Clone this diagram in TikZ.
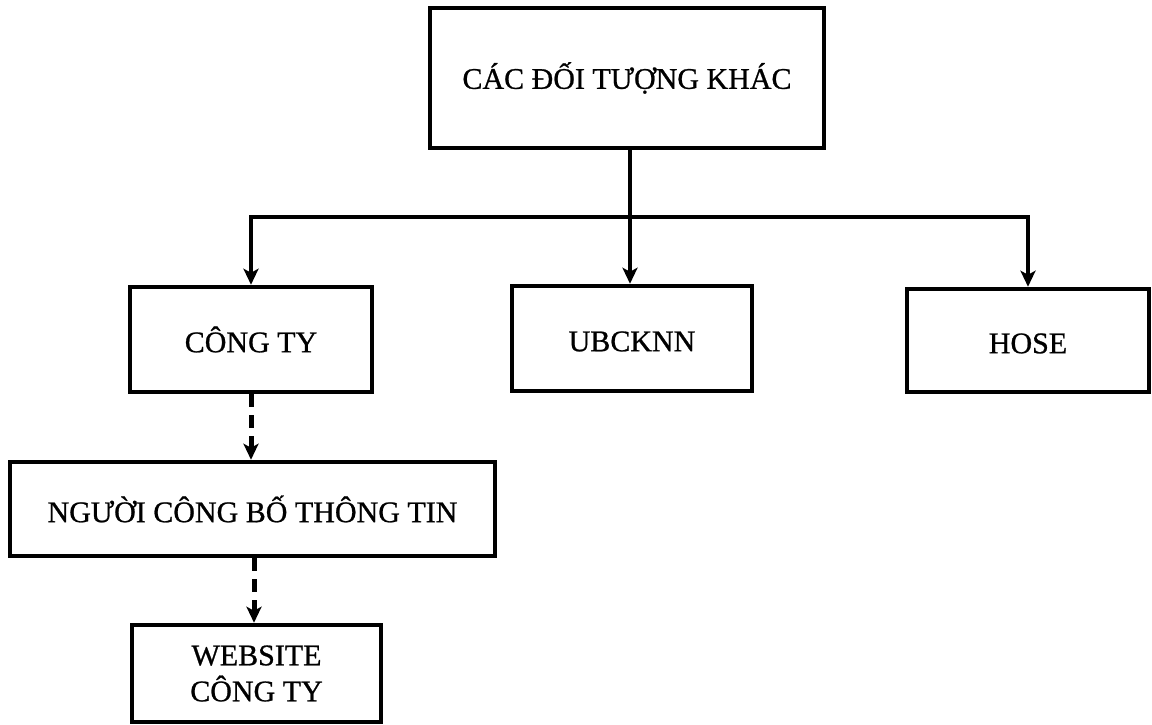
\documentclass[tikz,border=0pt]{standalone}
\usepackage{fontspec}
\setmainfont[FakeBold=0.8]{Liberation Serif}
\usetikzlibrary{arrows.meta}
\begin{document}
\begin{tikzpicture}[x=1pt,y=-1pt,
  boxnode/.style={draw, line width=4.5pt, rectangle, inner sep=0pt, align=center,
    font=\fontsize{30}{36}\selectfont},
  conn/.style={line width=4pt},
  arr/.style={conn, -{Stealth[length=16pt,width=15pt,inset=4pt]}},
  darr/.style={arr, line width=5pt, dash pattern=on 13pt off 8pt}]
\useasboundingbox (0,0) rectangle (1152,724);
\node[boxnode, minimum width=394pt, minimum height=140pt] (top) at (627,78) {CÁC ĐỐI TƯỢNG KHÁC};
\node[boxnode, minimum width=242pt, minimum height=105pt] (cty) at (251,339.5) {CÔNG TY};
\node[boxnode, minimum width=240pt, minimum height=105pt] (ubc) at (632,338.5) {\vphantom{Ô}UBCKNN};
\node[boxnode, minimum width=242pt, minimum height=103pt] (hose) at (1028,340.5) {\vphantom{Ô}HOSE};
\node[boxnode, minimum width=485pt, minimum height=94pt] (ngb) at (252.5,509) {NGƯỜI CÔNG BỐ THÔNG TIN};
\node[boxnode, minimum width=249pt, minimum height=97pt] (web) at (256.5,673.5) {WEBSITE\\CÔNG TY};
\coordinate (j) at (630,217);
\draw[conn] (j |- top.south) -- (j);
\draw[conn, line cap=rect] (j -| cty.north) -- (j -| hose.north);
\draw[arr] (j -| cty.north) -- (cty.north);
\draw[arr] (j) -- (j |- ubc.north);
\draw[arr] (j -| hose.north) -- (hose.north);
\draw[darr] (cty.south) -- (cty.south |- ngb.north);
\draw[darr] (ngb.south) ++(1.5,0) coordinate (ds) -- (ds |- web.north);
\end{tikzpicture}
\end{document}
